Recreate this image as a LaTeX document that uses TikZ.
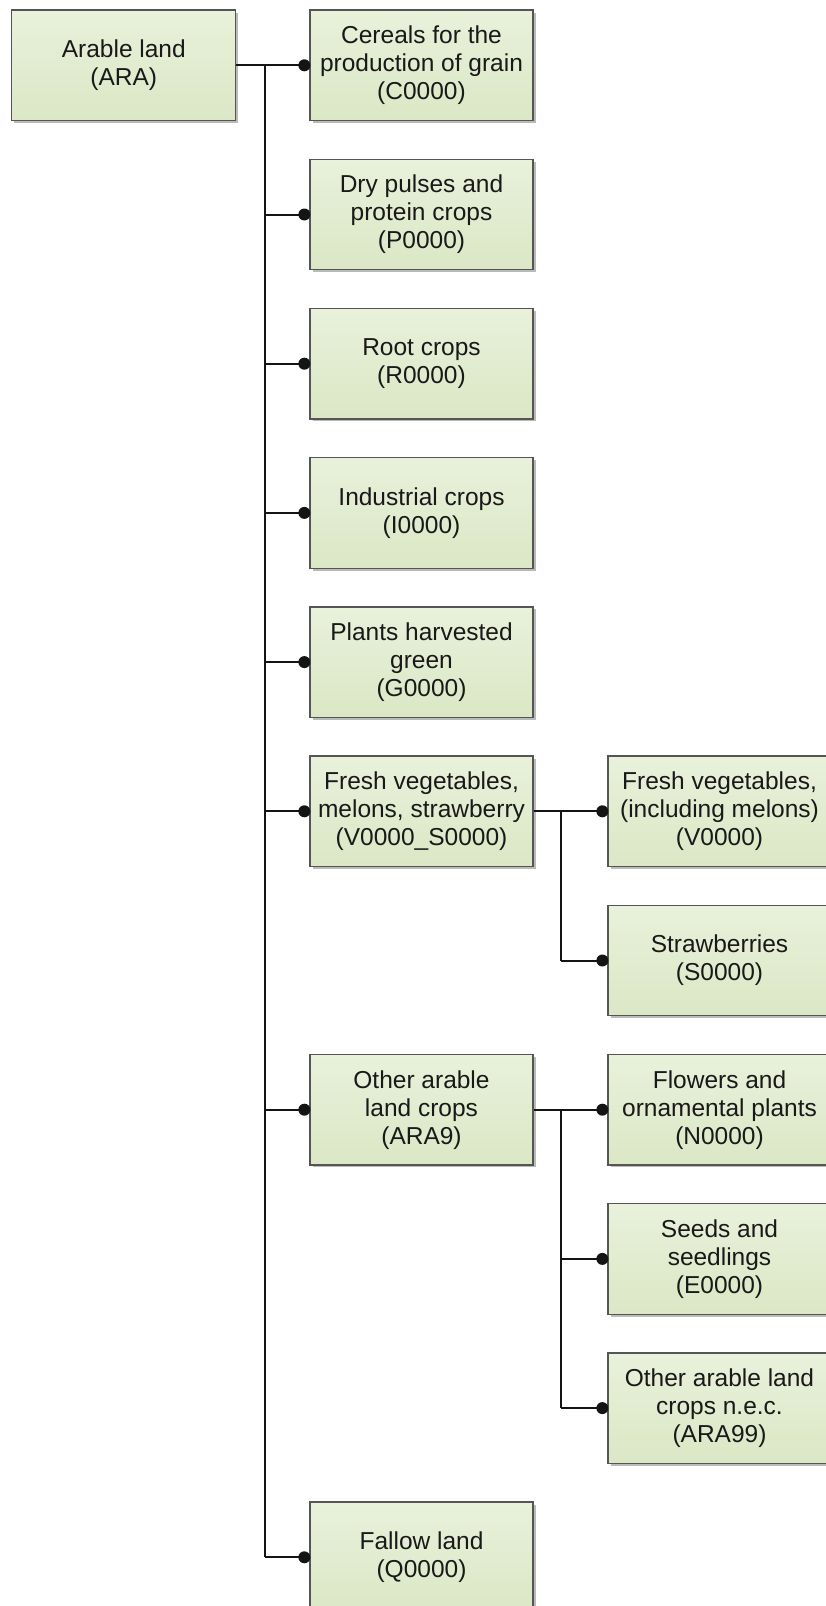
\documentclass[tikz,border=0pt]{standalone}
\usepackage{fontspec}
\setmainfont{Liberation Sans}
\usetikzlibrary{shadows}
\definecolor{boxtop}{RGB}{233,241,219}
\definecolor{boxbot}{RGB}{219,231,197}
\definecolor{boxline}{RGB}{85,85,85}
\definecolor{conn}{RGB}{20,20,20}
\begin{document}
\begin{tikzpicture}[x=1pt,y=-1pt,
  cbox/.style={draw=boxline, line width=1.3pt, top color=boxtop, bottom color=boxbot,
    minimum width=223pt, minimum height=110.5pt, inner sep=0pt, align=center,
    text=black!90, font=\fontsize{24.5pt}{28pt}\selectfont,
    drop shadow={shadow xshift=2.5pt, shadow yshift=-2.5pt, fill=black!45, opacity=0.6}},
  wire/.style={draw=conn, line width=2pt},
  trunk/.style={draw=conn, line width=2.4pt},
  enddot/.style={fill=conn}]
\useasboundingbox (0,0) rectangle (825,1606);

% column 1
\node[cbox, minimum width=224pt] (ARA) at (123.8,65.3) {Arable land\\(ARA)};

% column 2
\node[cbox] (C)   at (421.5,65.3)   {Cereals for the\\production of grain\\(C0000)};
\node[cbox] (P)   at (421.5,214.5)  {Dry pulses and\\protein crops\\(P0000)};
\node[cbox] (R)   at (421.5,363.7)  {Root crops\\(R0000)};
\node[cbox] (I)   at (421.5,512.9)  {Industrial crops\\(I0000)};
\node[cbox] (G)   at (421.5,662.1)  {Plants harvested\\green\\(G0000)};
\node[cbox] (VS)  at (421.5,811.3)  {Fresh vegetables,\\melons, strawberry\\(V0000\_S0000)};
\node[cbox] (A9)  at (421.5,1109.7) {Other arable\\land crops\\(ARA9)};
\node[cbox] (Q)   at (421.5,1557.3) {Fallow land\\(Q0000)};

% column 3
\node[cbox] (V)   at (719.5,811.3)  {Fresh vegetables,\\(including melons)\\(V0000)};
\node[cbox] (S)   at (719.5,960.5)  {Strawberries\\(S0000)};
\node[cbox] (N)   at (719.5,1109.7) {Flowers and\\ornamental plants\\(N0000)};
\node[cbox] (E)   at (719.5,1258.9) {Seeds and\\seedlings\\(E0000)};
\node[cbox] (A99) at (719.5,1408.1) {Other arable land\\crops n.e.c.\\(ARA99)};

% main trunk
\draw[wire] (ARA.east) -- ++(28.3pt,0) coordinate (tr);
\draw[trunk] (tr) -- (tr |- Q.west);
\foreach \n in {C,P,R,I,G,VS,A9,Q}{
  \draw[wire] (tr |- \n.west) -- (\n.west);
  \fill[enddot] (\n.west) ++(-5pt,0) circle (6pt);
}

% sub trunk 1
\draw[wire] (VS.east) -- ++(27.5pt,0) coordinate (st1);
\draw[wire] (st1) -- (st1 |- S.west);
\foreach \n in {V,S}{
  \draw[wire] (st1 |- \n.west) -- (\n.west);
  \fill[enddot] (\n.west) ++(-5pt,0) circle (6pt);
}

% sub trunk 2
\draw[wire] (A9.east) -- ++(27.5pt,0) coordinate (st2);
\draw[wire] (st2) -- (st2 |- A99.west);
\foreach \n in {N,E,A99}{
  \draw[wire] (st2 |- \n.west) -- (\n.west);
  \fill[enddot] (\n.west) ++(-5pt,0) circle (6pt);
}
\end{tikzpicture}
\end{document}
